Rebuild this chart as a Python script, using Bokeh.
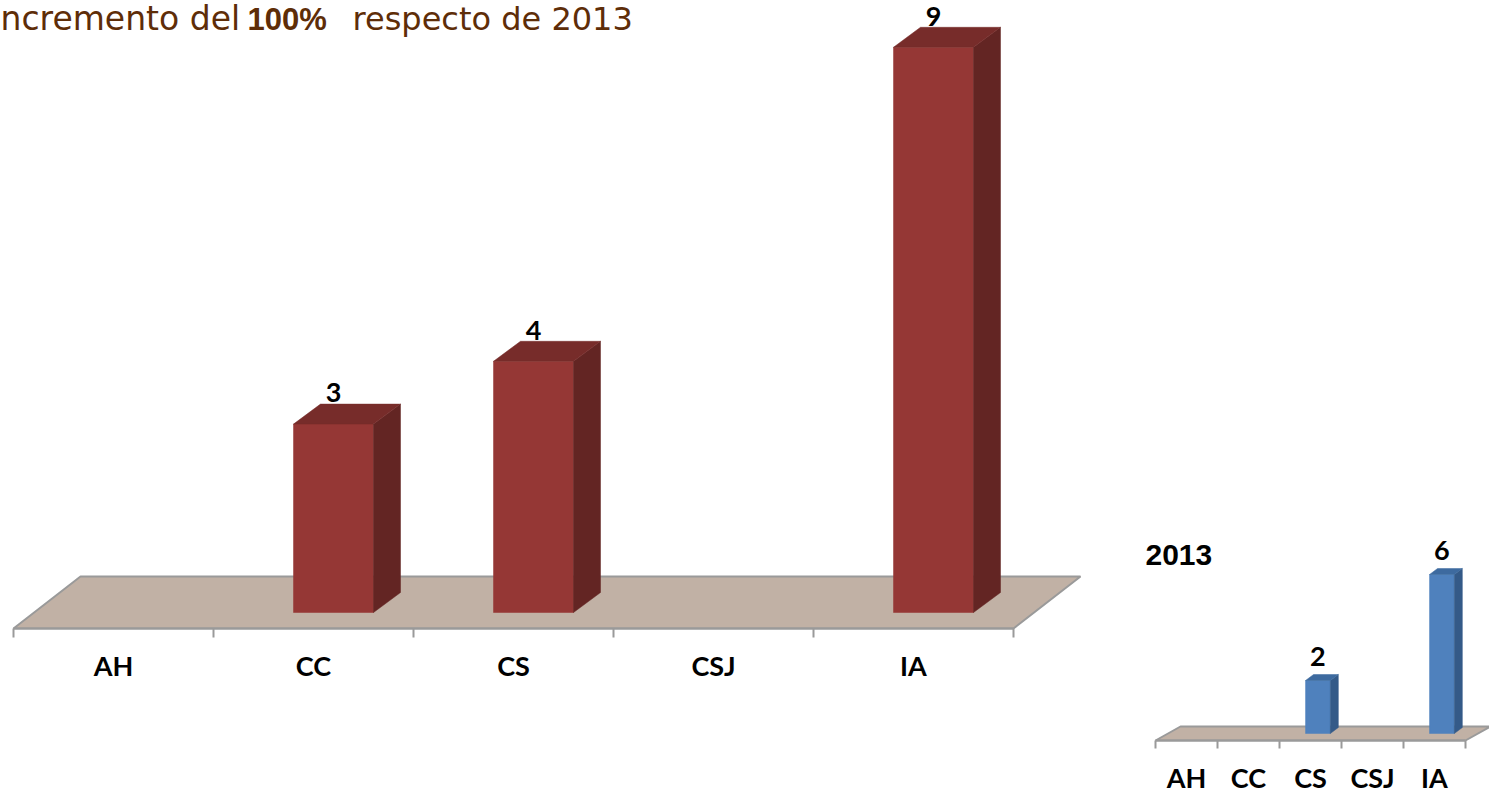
from bokeh.plotting import figure
from bokeh.models import Range1d, LinearAxis, FixedTicker, ColumnDataSource
from bokeh.embed import file_html
from bokeh.resources import INLINE
from bokeh.core.properties import value

# ---------------- data ----------------
categories = ["AH", "CC", "CS", "CSJ", "IA"]
values_2014 = [0, 3, 4, 0, 9]
values_2013 = [0, 0, 2, 0, 6]
title_parts = ["ncremento del", "100%", "respecto de 2013"]
inset_title = "2013"

# ---------------- styles ----------------
RED = dict(front="#953735", top="#772C2A", side="#632523")
BLUE = dict(front="#4F81BD", top="#3D6A9F", side="#345A88")
FLOOR = "#C1B1A5"
EDGE = "#9A9A9A"
TITLE_COLOR = "#5E2D08"
LABEL_FONT = "Lato"
BASELINE_FIX = 0.38  # em; lifts text so that glyph baselines land where intended
TITLE_BASE = 31      # px from top, baseline of the title line

W, H = 1489, 794

# pixel geometry of the two charts (layout only)
MAIN = dict(x0=13, ux=200, base=612, uy=62.8, floor_front=628)
SMALL = dict(x0=1155, ux=62, base=733, uy=26.5, floor_front=740)

p = figure(width=W, height=H, output_backend="svg", toolbar_location=None,
           x_axis_location=None, y_axis_location=None,
           x_range=Range1d(-MAIN["x0"] / MAIN["ux"], (W - MAIN["x0"]) / MAIN["ux"]),
           y_range=Range1d((MAIN["base"] - H) / MAIN["uy"], MAIN["base"] / MAIN["uy"]),
           min_border_left=0, min_border_right=0, min_border_top=0, min_border_bottom=0,
           outline_line_color=None, background_fill_color="white", border_fill_color="white")
p.extra_x_ranges = {"sx": Range1d(-SMALL["x0"] / SMALL["ux"], (W - SMALL["x0"]) / SMALL["ux"])}
p.extra_y_ranges = {"sy": Range1d((SMALL["base"] - H) / SMALL["uy"], SMALL["base"] / SMALL["uy"])}
p.grid.visible = False


def draw_chart(vals, colors, g, xr_name, yr_name, floor_dx, floor_dy, bar_off, bar_w,
               bar_dx, bar_dy, tick_len, standoff, label_gap, label_px, axis_size):
    n = len(categories)
    ux, uy = g["ux"], g["uy"]
    rn = dict(x_range_name=xr_name, y_range_name=yr_name)

    # floor
    yf = (g["base"] - g["floor_front"]) / uy
    fdx, fdy = floor_dx / ux, floor_dy / uy
    p.patch([0, n, n + fdx, fdx], [yf, yf, yf + fdy, yf + fdy],
            fill_color=FLOOR, line_color=EDGE, line_width=2, **rn)

    # bars
    ddx, ddy = bar_dx / ux, bar_dy / uy
    ks = [k for k, v in enumerate(vals) if v > 0]
    vs = [vals[k] for k in ks]
    xl = [k + bar_off for k in ks]
    xr = [x + bar_w for x in xl]
    lift = (label_gap + BASELINE_FIX * label_px) / uy
    src = ColumnDataSource(dict(
        left=xl, right=xr, top=vs, bottom=[0] * len(vs),
        tx=[[a, b, b + ddx, a + ddx] for a, b in zip(xl, xr)],
        ty=[[v, v, v + ddy, v + ddy] for v in vs],
        sx=[[b, b + ddx, b + ddx, b] for b in xr],
        sy=[[0, ddy, v + ddy, v] for v in vs],
        lx=[(a + b) / 2 for a, b in zip(xl, xr)],
        ly=[v + ddy + lift for v in vs],
        lt=[str(v) for v in vs],
    ))
    p.quad(left="left", right="right", top="top", bottom="bottom", source=src,
           fill_color=colors["front"], line_color=colors["front"], line_width=0.5, **rn)
    p.patches("sx", "sy", source=src, fill_color=colors["side"],
              line_color=colors["side"], line_width=0.5, **rn)
    p.patches("tx", "ty", source=src, fill_color=colors["top"],
              line_color=colors["top"], line_width=0.5, **rn)
    p.text(x="lx", y="ly", text="lt", source=src, text_font=value(LABEL_FONT),
           text_font_style="bold", text_font_size=f"{label_px}px", text_color="black",
           text_align="center", text_baseline="alphabetic", **rn)

    # category axis, fixed at the front edge of the floor
    ax = LinearAxis(ticker=FixedTicker(ticks=[k + 0.5 for k in range(n)],
                                       minor_ticks=list(range(n + 1))),
                    major_label_overrides={k + 0.5: c for k, c in enumerate(categories)},
                    bounds=(0, n), fixed_location=yf, **rn)
    ax.axis_line_color = EDGE
    ax.axis_line_width = 2
    ax.major_tick_line_color = None
    ax.major_tick_out = 0
    ax.major_tick_in = 0
    ax.minor_tick_line_color = EDGE
    ax.minor_tick_line_width = 2
    ax.minor_tick_out = tick_len
    ax.minor_tick_in = 0
    ax.major_label_standoff = standoff
    ax.major_label_text_font = LABEL_FONT
    ax.major_label_text_font_style = "bold"
    ax.major_label_text_font_size = axis_size
    ax.major_label_text_color = "black"
    p.add_layout(ax, "below")


# main chart (2014)
draw_chart(values_2014, RED, MAIN, "default", "default", floor_dx=67, floor_dy=52,
           bar_off=0.4, bar_w=0.4, bar_dx=27, bar_dy=20, tick_len=9, standoff=11,
           label_gap=1, label_px=27, axis_size="27px")

# inset chart (2013)
draw_chart(values_2013, BLUE, SMALL, "sx", "sy", floor_dx=25, floor_dy=14,
           bar_off=0.42, bar_w=0.4, bar_dx=8, bar_dy=6, tick_len=8, standoff=12,
           label_gap=8, label_px=27, axis_size="27px")


def mx(px):
    return (px - MAIN["x0"]) / MAIN["ux"]


def my(py, size):
    return (MAIN["base"] - py + BASELINE_FIX * size) / MAIN["uy"]


# title (three pieces, regular / bold / regular)
p.text(x=[mx(0)], y=[my(TITLE_BASE, 33)], text=[title_parts[0]], text_font=value("DejaVu Sans"),
       text_font_size="33px", text_color=TITLE_COLOR, text_baseline="alphabetic", text_align="left")
p.text(x=[mx(247)], y=[my(TITLE_BASE, 31)], text=[title_parts[1]], text_font=value("Liberation Sans"),
       text_font_style="bold", text_font_size="31px", text_color=TITLE_COLOR,
       text_baseline="alphabetic", text_align="left")
p.text(x=[mx(352)], y=[my(TITLE_BASE, 32)], text=[title_parts[2]], text_font=value("DejaVu Sans"),
       text_font_size="32px", text_color=TITLE_COLOR, text_baseline="alphabetic", text_align="left")

# inset title
p.text(x=[(1145 - SMALL["x0"]) / SMALL["ux"]],
       y=[(SMALL["base"] - 566 + BASELINE_FIX * 30) / SMALL["uy"]],
       text=[inset_title], text_font=value("Liberation Sans"), text_font_style="bold",
       text_font_size="30px", text_color="black", text_baseline="alphabetic",
       text_align="left", x_range_name="sx", y_range_name="sy")

open("out.html", "w").write(file_html(p, INLINE))
